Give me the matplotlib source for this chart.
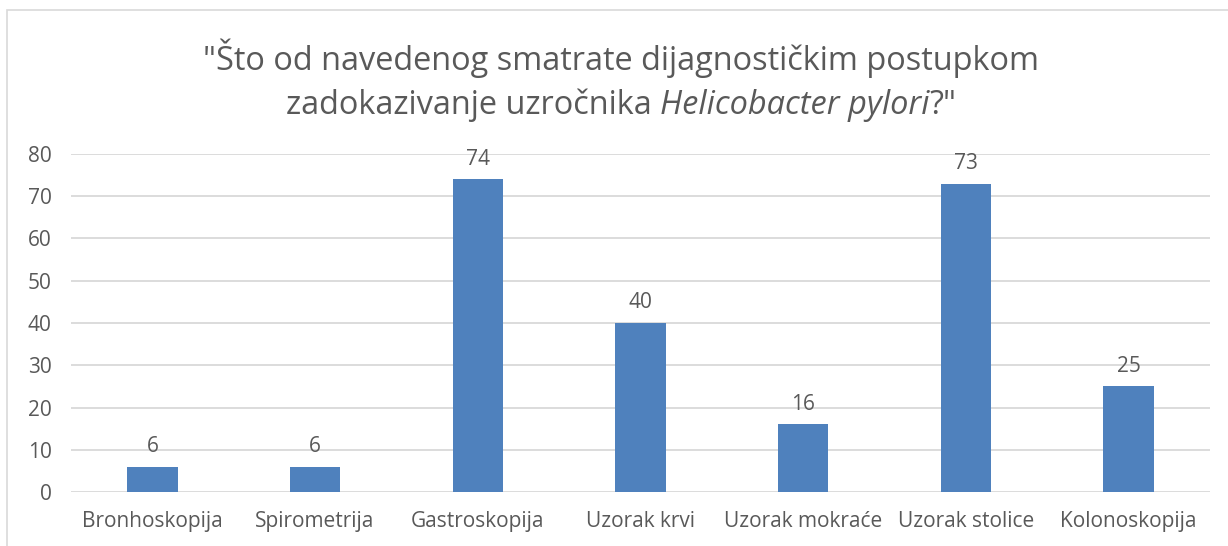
import numpy as np
import matplotlib
matplotlib.use('Agg')
from matplotlib import pyplot as plt
from matplotlib.patches import Rectangle

categories = ['Bronhoskopija', 'Spirometrija', 'Gastroskopija', 'Uzorak krvi',
              'Uzorak mokraće', 'Uzorak stolice', 'Kolonoskopija']
values = [6, 6, 74, 40, 16, 73, 25]
yticks = [0, 10, 20, 30, 40, 50, 60, 70, 80]

BAR = '#4F81BD'
TXT = '#595959'
GRID = '#D9D9D9'
FONT = 'Open Sans'

plt.rcParams['font.family'] = FONT

fig = plt.figure(figsize=(12.28, 5.46), dpi=100)
W, H = 1228, 546
CX = 621  # chart area centre (border runs past the right edge)

# outer chart border
fig.patches.append(Rectangle((7 / W, -0.2), 1.2, 1.2 - 10 / H, transform=fig.transFigure,
                             fill=False, edgecolor=GRID, linewidth=1.2))

ax = fig.add_axes([71 / W, 1 - 492 / H, (1210 - 71) / W, (492 - 154) / H])
x = np.arange(len(categories))
bars = ax.bar(x, values, width=0.31, color=BAR, zorder=3)
ax.set_xlim(-0.5, len(categories) - 0.5)
ax.set_ylim(0, 80)
ax.set_yticks(yticks)
ax.set_xticks(x)
ax.set_xticklabels(categories)
ax.tick_params(axis='both', length=0, labelsize=15, colors=TXT)
ax.tick_params(axis='x', pad=14)
ax.tick_params(axis='y', pad=14)
ax.yaxis.grid(True, color=GRID, linewidth=1.3, zorder=0)
for s in ax.spines.values():
    s.set_visible(False)

for b, v in zip(bars, values):
    ax.annotate(str(v), (b.get_x() + b.get_width() / 2, v), xytext=(0, 7),
                textcoords='offset points', ha='center', va='bottom',
                fontsize=15, color=TXT)

# title
fig.text(CX / W, 1 - 70 / H, '"Što od navedenog smatrate dijagnostičkim postupkom',
         ha='center', va='baseline', fontsize=23.4, color=TXT)

parts = [('zadokazivanje uzročnika ', 'normal'), ('Helicobacter pylori', 'italic'), ('?"', 'normal')]
renderer = fig.canvas.get_renderer()
texts = []
total = 0
for s, st in parts:
    t = fig.text(0, 1 - 114 / H, s, ha='left', va='baseline', fontsize=23.4,
                 color=TXT, style=st)
    w = t.get_window_extent(renderer).width
    texts.append((t, w))
    total += w
xpos = CX - total / 2
for t, w in texts:
    t.set_x(xpos / W)
    xpos += w

fig.savefig('out.png', dpi=100)
